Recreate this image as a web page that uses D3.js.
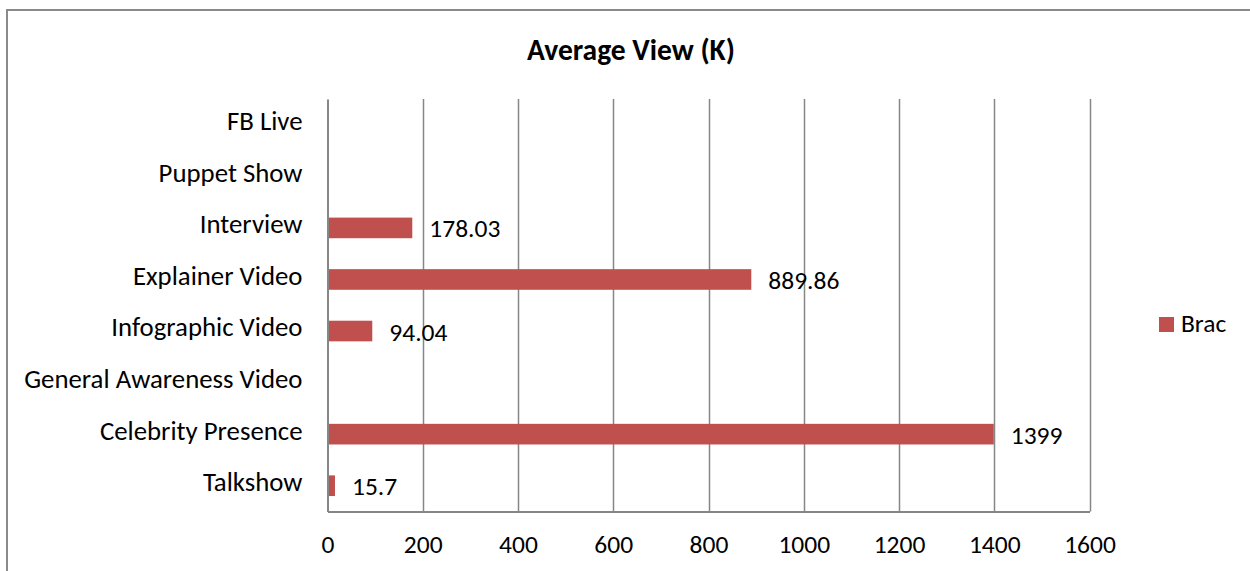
<!DOCTYPE html>
<html>
<head>
<meta charset="utf-8">
<script src="https://cdn.jsdelivr.net/npm/d3@7"></script>
<style>
  html, body { margin: 0; padding: 0; background: #fff; }
  svg { display: block; font-family: Carlito, Lato, "Liberation Sans", sans-serif; }
</style>
</head>
<body>
<svg id="chart" width="1250" height="571"></svg>
<script>
// Average views per content type (thousands), listed bottom to top
const categories = ["Talkshow", "Celebrity Presence", "General Awareness Video", "Infographic Video",
                    "Explainer Video", "Interview", "Puppet Show", "FB Live"];
const bracValues = [15.7, 1399, null, 94.04, 889.86, 178.03, null, null];
const xTicks = [0, 200, 400, 600, 800, 1000, 1200, 1400, 1600];
const seriesName = "Brac";
const chartTitle = "Average View (K)";

const svg = d3.select("#chart");
const barColor = "#C0504D";
const gridColor = "#868686";
const fontSize = 25.5;
const labelFontSize = 26.8;
const fontFamily = "Carlito, Lato, sans-serif";

// outer chart frame
svg.append("rect")
  .attr("x", 7).attr("y", 10)
  .attr("width", 1300).attr("height", 700)
  .attr("fill", "none").attr("stroke", "#8a8a8a").attr("stroke-width", 2);

const plot = { left: 327.5, right: 1089.5, top: 99, bottom: 511.5 };

const x = d3.scaleLinear().domain([0, 1600]).range([plot.left, plot.right]);
const y = d3.scaleBand()
  .domain(categories.slice().reverse())
  .range([plot.top, plot.bottom])
  .paddingInner(0.6).paddingOuter(0.3);

const data = categories.map((c, i) => ({ cat: c, value: bracValues[i] }));

// title
svg.append("text")
  .attr("x", 631).attr("y", 59.5)
  .attr("text-anchor", "middle")
  .attr("font-weight", "bold")
  .attr("font-size", 29.5)
  .attr("fill", "#000")
  .text(chartTitle);

// vertical gridlines
svg.append("g")
  .selectAll("line")
  .data(xTicks.filter(t => t > 0))
  .join("line")
  .attr("x1", d => Math.round(x(d)) + 0.5).attr("x2", d => Math.round(x(d)) + 0.5)
  .attr("y1", plot.top).attr("y2", plot.bottom)
  .attr("stroke", gridColor).attr("stroke-width", 1.5);

// bars
svg.append("g")
  .selectAll("rect")
  .data(data.filter(d => d.value != null))
  .join("rect")
  .attr("x", x(0))
  .attr("y", d => y(d.cat))
  .attr("width", d => x(d.value) - x(0))
  .attr("height", y.bandwidth())
  .attr("fill", barColor);

// x axis
const xAxis = d3.axisBottom(x).tickValues(xTicks).tickSize(0).tickPadding(23)
  .tickFormat(d3.format("d"));
const gx = svg.append("g")
  .attr("transform", `translate(0,${plot.bottom})`)
  .call(xAxis);
gx.select(".domain").attr("stroke", gridColor).attr("stroke-width", 2);
gx.selectAll("text").attr("font-size", fontSize).attr("fill", "#000")
  .attr("font-family", fontFamily);

// y axis
const yAxis = d3.axisLeft(y).tickSize(0).tickPadding(25);
const gy = svg.append("g")
  .attr("transform", `translate(${plot.left},0)`)
  .call(yAxis);
gy.select(".domain").attr("stroke", gridColor).attr("stroke-width", 2);
gy.selectAll("text").attr("font-size", labelFontSize).attr("fill", "#000")
  .attr("font-family", fontFamily)
  .attr("dy", "0.2em");

// value labels
svg.append("g")
  .selectAll("text")
  .data(data.filter(d => d.value != null))
  .join("text")
  .attr("x", d => x(d.value) + 17)
  .attr("y", d => y(d.cat) + y.bandwidth() / 2 + 9.5)
  .attr("font-size", fontSize)
  .attr("fill", "#000")
  .text(d => d.value);

// legend
const legend = svg.append("g").attr("transform", "translate(1159,317)");
legend.append("rect").attr("width", 15).attr("height", 15).attr("fill", barColor);
legend.append("text").attr("x", 22).attr("y", 15)
  .attr("font-size", fontSize).attr("fill", "#000").text(seriesName);
</script>
</body>
</html>
